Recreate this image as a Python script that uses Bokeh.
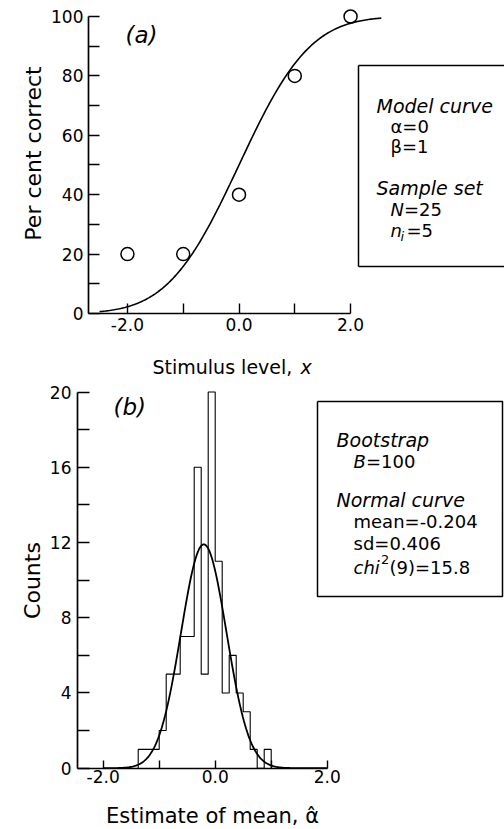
import math
from bokeh.plotting import figure
from bokeh.models import FixedTicker, PrintfTickFormatter, Label
from bokeh.layouts import column
from bokeh.embed import file_html
from bokeh.resources import INLINE

# ---------------- data: panel (a) ----------------
stimulus_levels = [-2.0, -1.0, 0.0, 1.0, 2.0]
percent_correct = [20, 20, 40, 80, 100]
model_alpha = 0.0
model_beta = 1.0
curve_a_start, curve_a_end = -2.5, 2.55

# ---------------- data: panel (b) ----------------
bin_edges = [-1.375, -1.25, -1.125, -1.0, -0.875, -0.75, -0.625, -0.5, -0.375,
             -0.25, -0.125, 0.0, 0.125, 0.25, 0.375, 0.5, 0.625, 0.75, 0.875, 1.0]
bin_counts = [1, 1, 1, 2, 5, 5, 7, 7, 16, 5, 20, 11, 4, 6, 4, 3, 1, 0, 1]
normal_mean = -0.204
normal_sd = 0.406
normal_peak = 11.9
curve_b_start, curve_b_end = -2.0, 2.0

# ---------------- ticks ----------------
x_major_ticks = [-2.0, 0.0, 2.0]
x_minor_ticks = [-1.0, 1.0]
ya_major_ticks = [0, 20, 40, 60, 80, 100]
ya_minor_ticks = [10, 30, 50, 70, 90]
yb_major_ticks = [0, 4, 8, 12, 16, 20]
yb_minor_ticks = [2, 6, 10, 14, 18]

FONT = "DejaVu Sans"
W = 504

# ---------------- layout constants (page pixels) ----------------
HA = 383
XA = (-4.276, 4.760)
YA = (-23.569, 105.387)
A_YAXIS_PX = 88

HB = 443
XB = (-3.834, 5.166)
YB = (-3.1, 20.452)
B_YAXIS_PX = 77

A_TOP_PAGE, B_TOP_PAGE = 0, HA


def ax(px):
    return XA[0] + px * (XA[1] - XA[0]) / W


def ay(py):
    return YA[1] - (py - A_TOP_PAGE) * (YA[1] - YA[0]) / HA


def bx(px):
    return XB[0] + px * (XB[1] - XB[0]) / W


def by(py):
    return YB[1] - (py - B_TOP_PAGE) * (YB[1] - YB[0]) / HB


def style_axes(p, xtick_len, ytick_len, x_standoff, y_standoff, yaxis_at):
    for a in (p.xaxis[0], p.yaxis[0]):
        a.axis_line_width = 1.7
        a.axis_line_color = "black"
        a.major_tick_line_width = 1.4
        a.minor_tick_line_width = 1.4
        a.major_tick_line_color = "black"
        a.minor_tick_line_color = "black"
        a.major_tick_out = 0
        a.minor_tick_out = 0
        a.major_label_text_font = FONT
        a.major_label_text_font_size = "17px"
        a.major_label_text_color = "black"
    p.xaxis[0].major_tick_in = xtick_len
    p.xaxis[0].minor_tick_in = xtick_len
    p.yaxis[0].major_tick_in = ytick_len
    p.yaxis[0].minor_tick_in = ytick_len
    p.xaxis[0].major_label_standoff = x_standoff
    p.yaxis[0].major_label_standoff = y_standoff
    p.xaxis[0].fixed_location = 0
    p.yaxis[0].fixed_location = yaxis_at
    p.xaxis[0].formatter = PrintfTickFormatter(format="%.1f")
    p.xaxis[0].ticker = FixedTicker(ticks=x_major_ticks, minor_ticks=x_minor_ticks)
    p.xaxis[0].bounds = (yaxis_at, x_major_ticks[-1])
    p.grid.visible = False
    p.outline_line_color = None
    p.background_fill_color = "white"
    p.border_fill_color = "white"


def add_text(p, x, y, text, size="18px", style="normal", align="left", angle=0.0):
    p.add_layout(Label(x=x, y=y, text=text, text_font=FONT, text_font_size=size,
                       text_font_style=style, text_color="black", angle=angle,
                       text_align=align, text_baseline="alphabetic"))


# ================= panel (a) =================
pa = figure(width=W, height=HA, x_range=XA, y_range=YA, output_backend="svg",
            toolbar_location=None, min_border=0)
style_axes(pa, 10, 11, 5, 5, ax(A_YAXIS_PX))
pa.yaxis[0].ticker = FixedTicker(ticks=ya_major_ticks, minor_ticks=ya_minor_ticks)
pa.yaxis[0].bounds = (0, ya_major_ticks[-1])

n_pts = 200
cx = [curve_a_start + i * (curve_a_end - curve_a_start) / (n_pts - 1) for i in range(n_pts)]
cy = [100 * 0.5 * (1 + math.erf((v - model_alpha) / (model_beta * math.sqrt(2)))) for v in cx]
pa.line(cx, cy, line_color="black", line_width=1.6)
pa.scatter(stimulus_levels, percent_correct, marker="circle", size=13,
           fill_color=None, line_color="black", line_width=1.5)

add_text(pa, ax(125), ay(34), "(a)", size="23px", style="italic")
# legend box (right side runs off the page edge, as in the original)
pa.multi_line(xs=[[ax(358), ax(540)], [ax(358), ax(358)], [ax(358), ax(540)]],
              ys=[[ay(65), ay(65)], [ay(65), ay(266)], [ay(266), ay(266)]],
              line_color="black", line_width=1.5)
add_text(pa, ax(376), ay(105), "Model curve", size="19px", style="italic")
add_text(pa, ax(390), ay(126), "α=0")
add_text(pa, ax(390), ay(146), "β=1")
add_text(pa, ax(376), ay(187), "Sample set", size="19px", style="italic")
add_text(pa, ax(390), ay(209), "N", style="italic")
add_text(pa, ax(403.5), ay(209), "=25")
add_text(pa, ax(390), ay(230), "n", style="italic")
add_text(pa, ax(400), ay(236), "i", size="13px", style="italic")
add_text(pa, ax(406), ay(230), "=5")
# axis titles
add_text(pa, ax(33), ay(153), "Per cent correct", size="22px", align="center",
         angle=math.pi / 2)
add_text(pa, ax(152), ay(366), "Stimulus level,", size="19px")
add_text(pa, ax(300), ay(366), "x", size="19px", style="italic")

# ================= panel (b) =================
pb = figure(width=W, height=HB, x_range=XB, y_range=YB, output_backend="svg",
            toolbar_location=None, min_border=0)
style_axes(pb, 8, 12, 2, 6, bx(B_YAXIS_PX))
pb.yaxis[0].ticker = FixedTicker(ticks=yb_major_ticks, minor_ticks=yb_minor_ticks)
pb.yaxis[0].bounds = (0, yb_major_ticks[-1])

# step outline of the histogram
hx, hy = [bin_edges[0]], [0]
for i, c in enumerate(bin_counts):
    hx += [bin_edges[i], bin_edges[i + 1]]
    hy += [c, c]
hx.append(bin_edges[-1])
hy.append(0)
pb.line(hx, hy, line_color="black", line_width=1.1)

nx = [curve_b_start + i * (curve_b_end - curve_b_start) / (n_pts - 1) for i in range(n_pts)]
ny = [normal_peak * math.exp(-0.5 * ((v - normal_mean) / normal_sd) ** 2) for v in nx]
pb.line(nx, ny, line_color="black", line_width=1.8)

add_text(pb, bx(113), by(406), "(b)", size="23px", style="italic")
pb.line([bx(317), bx(502), bx(502), bx(317), bx(317)],
        [by(401), by(401), by(596), by(596), by(401)],
        line_color="black", line_width=1.5)
add_text(pb, bx(336), by(439), "Bootstrap", size="19px", style="italic")
add_text(pb, bx(353), by(461), "B", style="italic")
add_text(pb, bx(365.5), by(461), "=100")
add_text(pb, bx(336), by(499), "Normal curve", size="19px", style="italic")
add_text(pb, bx(353), by(521), "mean=-0.204")
add_text(pb, bx(353), by(543), "sd=0.406")
add_text(pb, bx(353), by(567), "chi", style="italic")
add_text(pb, bx(380.5), by(559), "2", size="13px")
add_text(pb, bx(389), by(567), "(9)=15.8")
# axis titles
add_text(pb, bx(32), by(580), "Counts", size="22px", align="center", angle=math.pi / 2)
add_text(pb, bx(212), by(815), "Estimate of mean, α\u0302", size="21px", align="center")

layout = column(pa, pb)
open("out.html", "w").write(file_html(layout, INLINE))
